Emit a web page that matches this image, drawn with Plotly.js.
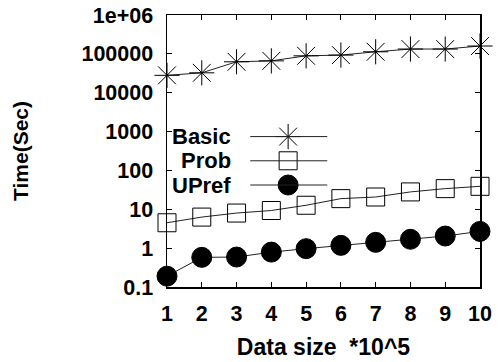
<!DOCTYPE html>
<html>
<head>
<meta charset="utf-8">
<script src="https://cdn.plot.ly/plotly-3.0.1.min.js"></script>
<style>html,body{margin:0;padding:0;background:#fff}#chart{width:500px;height:362px}</style>
</head>
<body>
<div id="chart"></div>
<script>
// Data size in units of 10^5 records
const dataSize = [1, 2, 3, 4, 5, 6, 7, 8, 9, 10];

// Running time in seconds for each method
const basicTime = [28000, 32500, 62500, 66000, 89000, 93000, 113000, 133000, 133000, 159000];
const probTime  = [4.5, 6.3, 8.0, 9.3, 12.7, 18.8, 20.7, 28, 34, 39];
const uprefTime = [0.19, 0.58, 0.59, 0.79, 0.97, 1.18, 1.41, 1.69, 2.05, 2.7];

// Y tick labels (log scale, decades)
const yTickVals = [0.1, 1, 10, 100, 1000, 10000, 100000, 1000000];
const yTickText = ['0.1', '1', '10', '100', '1000', '10000', '100000', '1e+06'];

// Legend entries: names and marker symbols
const seriesNames = ['Basic', 'Prob', 'UPref'];
const seriesSymbols = ['asterisk-open', 'square-open', 'circle'];
const seriesSizes = [21, 18, 20];

const FONT = 'Liberation Sans, Arial, Helvetica, sans-serif';
const LINE = '#222';

function series(y, i) {
  return {
    x: dataSize, y: y, type: 'scatter', mode: 'lines+markers',
    name: seriesNames[i], showlegend: false, cliponaxis: false,
    line: {color: LINE, width: 1},
    marker: {symbol: seriesSymbols[i], size: seriesSizes[i], color: '#000',
             line: {color: '#000', width: 1}}
  };
}

// Key placed inside the plot, text on the left and line sample on the right
const keyRows = [0.553, 0.464, 0.375];
const keyText = 0.212, keyLine0 = 0.266, keyLine1 = 0.512, keyMark = 0.387;

const traces = [series(basicTime, 0), series(probTime, 1), series(uprefTime, 2)];
seriesNames.forEach((n, i) => {
  traces.push({
    x: [keyMark], y: [keyRows[i]], xaxis: 'x2', yaxis: 'y2', type: 'scatter',
    mode: 'markers', showlegend: false, hoverinfo: 'skip', cliponaxis: false,
    marker: {symbol: seriesSymbols[i], size: seriesSizes[i], color: '#000',
             line: {color: '#000', width: 1}}
  });
});

const shapes = keyRows.map(r => ({
  type: 'line', xref: 'paper', yref: 'paper', x0: keyLine0, x1: keyLine1, y0: r, y1: r,
  line: {color: LINE, width: 1}
}));
const annotations = seriesNames.map((n, i) => ({
  text: n, xref: 'paper', yref: 'paper', x: keyText, y: keyRows[i],
  xanchor: 'right', yanchor: 'middle', showarrow: false,
  font: {family: FONT, size: 22, weight: 'bold', color: '#000'}
}));

const layout = {
  width: 500, height: 362,
  margin: {l: 167, r: 20, t: 15, b: 75},
  paper_bgcolor: '#fff', plot_bgcolor: '#fff',
  font: {family: FONT, size: 21.5, weight: 'bold', color: '#000'},
  showlegend: false,
  xaxis: {
    range: [1, 10], tickvals: dataSize, ticks: 'inside', ticklen: 5, tickwidth: 1,
    tickcolor: '#000', mirror: 'ticks', showline: true, linecolor: '#000', linewidth: 1.5,
    showgrid: false, zeroline: false, ticklabelstandoff: 7,
    title: {text: 'Data size\u00a0\u00a0*10^5', standoff: 13, font: {family: FONT, size: 23, weight: 'bold'}}
  },
  yaxis: {
    type: 'log', range: [-1, 6], tickvals: yTickVals, ticktext: yTickText,
    ticks: 'inside', ticklen: 5, tickwidth: 1, tickcolor: '#000', mirror: 'ticks',
    showline: true, linecolor: '#000', linewidth: 1.5, showgrid: false, zeroline: false,
    ticklabelstandoff: 8,
    title: {text: 'Time(Sec)', standoff: 47, font: {family: FONT, size: 21, weight: 'bold'}}
  },
  xaxis2: {overlaying: 'x', range: [0, 1], visible: false, fixedrange: true},
  yaxis2: {overlaying: 'y', range: [0, 1], visible: false, fixedrange: true},
  shapes: shapes,
  annotations: annotations
};

Plotly.newPlot('chart', traces, layout, {displayModeBar: false, staticPlot: true});
</script>
</body>
</html>
